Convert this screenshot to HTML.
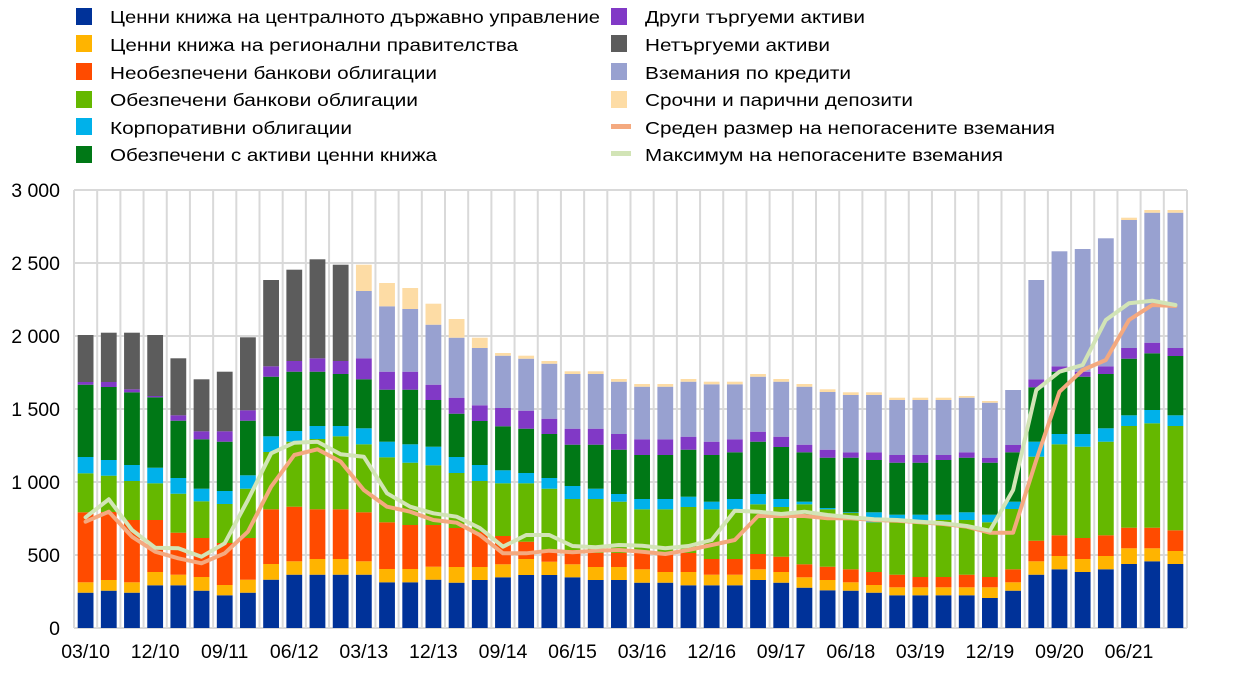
<!DOCTYPE html>
<html><head><meta charset="utf-8">
<style>
html,body{margin:0;padding:0;background:#fff;}
svg{display:block;font-family:"Liberation Sans","DejaVu Sans",sans-serif;}
</style></head>
<body>
<svg id="c" width="1240" height="689" viewBox="0 0 1240 689" xmlns="http://www.w3.org/2000/svg">
<g id="grid" stroke="#d9d9d9" stroke-width="2" fill="none"></g>
<g id="bars"></g>
<g id="lines" fill="none" stroke-linejoin="round" stroke-linecap="round"></g>
<g id="labels" font-size="19.5" fill="#000"></g>
<g id="legend" font-size="17.5" fill="#000">
<rect x="76" y="8" width="16" height="17" fill="#003299"/>
<rect x="76" y="35" width="16" height="17" fill="#ffb400"/>
<rect x="76" y="63" width="16" height="17" fill="#ff4b00"/>
<rect x="76" y="91" width="16" height="17" fill="#65b800"/>
<rect x="76" y="118" width="16" height="17" fill="#00b1ea"/>
<rect x="76" y="146" width="16" height="17" fill="#007816"/>
<text x="110" y="23" textLength="490" lengthAdjust="spacingAndGlyphs">Ценни книжа на централното държавно управление</text>
<text x="110" y="51" textLength="408" lengthAdjust="spacingAndGlyphs">Ценни книжа на регионални правителства</text>
<text x="110" y="79" textLength="327" lengthAdjust="spacingAndGlyphs">Необезпечени банкови облигации</text>
<text x="110" y="106" textLength="308" lengthAdjust="spacingAndGlyphs">Обезпечени банкови облигации</text>
<text x="110" y="134" textLength="242" lengthAdjust="spacingAndGlyphs">Корпоративни облигации</text>
<text x="110" y="161" textLength="327" lengthAdjust="spacingAndGlyphs">Обезпечени с активи ценни книжа</text>
<rect x="611" y="8" width="16" height="17" fill="#8139c6"/>
<rect x="611" y="35" width="16" height="17" fill="#5c5c5c"/>
<rect x="611" y="63" width="16" height="17" fill="#98a1d0"/>
<rect x="611" y="91" width="16" height="17" fill="#fddca5"/>
<rect x="611" y="124" width="20" height="5" fill="#f4a97f"/>
<rect x="611" y="151" width="20" height="5" fill="#d2e4b6"/>
<text x="645" y="23" textLength="220" lengthAdjust="spacingAndGlyphs">Други търгуеми активи</text>
<text x="645" y="51" textLength="185" lengthAdjust="spacingAndGlyphs">Нетъргуеми активи</text>
<text x="645" y="79" textLength="206" lengthAdjust="spacingAndGlyphs">Вземания по кредити</text>
<text x="645" y="106" textLength="268" lengthAdjust="spacingAndGlyphs">Срочни и парични депозити</text>
<text x="645" y="134" textLength="410" lengthAdjust="spacingAndGlyphs">Среден размер на непогасените вземания</text>
<text x="645" y="161" textLength="358" lengthAdjust="spacingAndGlyphs">Максимум на непогасените вземания</text>
</g>
</svg>
<script>
(function(){
var NS="http://www.w3.org/2000/svg";
function el(p,t,a,txt){var e=document.createElementNS(NS,t);for(var k in a)e.setAttribute(k,a[k]);if(txt!==undefined)e.textContent=txt;document.getElementById(p).appendChild(e);return e;}
var L=74,R=1187,T=190,B=628,N=48,P=(R-L)/N;
for(var v=0;v<=6;v++){var y=T+(B-T)*v/6;el("grid","line",{x1:L,x2:R,y1:y,y2:y});}
for(var i=0;i<=N;i++){var x=L+P*i;el("grid","line",{x1:x,x2:x,y1:T,y2:B});}
var D=[
[592.7,582.3,512.3,473.3,457,384.7,382,335,335],
[590.7,580,512,475.7,460,387,382,332.7,332.7],
[592.7,582.3,520,481,465,392.3,389.3,332.7,332.7],
[585.3,572,520,483.3,467.7,397.3,396,335,335],
[585.3,574.7,532.7,493.7,478,420.7,415.3,358.3,358.3],
[590.7,577,538,501.3,488.7,439.3,431.3,379.3,379.3],
[595.3,585,543,504,491,441.7,431.3,371.7,371.7],
[592.7,579.7,538,488.7,475.3,420.7,410.3,337.3,337.3],
[579.7,564,509.3,452,436.3,376.7,366.3,280,280],
[574.7,561.3,506.7,441.7,431,371.7,361,269.7,269.7],
[574.7,559,509.3,439,426,371.7,358.3,259.3,259.3],
[574.7,559,509.3,436.3,426,374,361,264.7,264.7],
[574.7,561.3,512.3,444.3,428.3,379.3,358.3,291,264.7],
[582.3,569,522.3,457.3,441.7,389.7,371.7,306.3,283],
[582.3,569,525,462.7,444.3,389.7,371.7,309,288],
[579.7,566.7,525,465.3,446.7,400,384.7,324.7,303.7],
[582.7,567,528,473,457,413.7,397.7,337.7,319],
[580,567,532,481,465,421,405.3,348,337.7],
[577.3,564.3,536,483.3,470.3,426.3,408,355.7,353],
[575,559,541.7,483.3,473,428.7,410.7,358.7,355.7],
[575,561.7,550,488.7,478,434,418.7,363.7,361],
[577.3,564.3,550,499,486,444.7,428.7,374,371.3],
[580,567,553,499,488.7,444.7,428.7,374,371.3],
[580,567,553,501.7,494,449.7,434,381.7,379],
[582.7,569.3,553,509.3,499,455,439.3,386.7,384],
[582.7,572,553,509.3,499,455,439.3,386.7,384],
[585.3,572,553,507,496.7,449.7,436.7,381.7,379],
[585.3,574.7,559,509.3,501.7,455,441.7,384.3,381.7],
[585.3,574.7,559,509.3,499,452.3,439.3,384.3,381.7],
[580,569.3,554,504.3,494,441.7,431.7,376.7,374],
[582.7,572,556.7,507,499,447,436.7,381.7,379],
[587.7,577.3,564.3,504.3,501.7,452.3,444.7,386.7,384],
[590.3,580,566.7,509.3,508,457.7,449.7,392,389.3],
[590.7,582.3,569.3,513,512.3,457.7,452.3,395,392.3],
[592.7,585,572,522.3,512.3,460,452.3,395,392.3],
[595.3,587.3,574.7,520,514.7,462.7,455,400,397.7],
[595.3,587.3,577,522.3,514.7,462.7,455,400,397.7],
[595.3,587.3,577,520,514.7,460,455,400,397.7],
[595.3,587.3,574.7,520,512.3,457.7,452.3,397.7,396],
[598,587.3,577,522.3,514.7,462.7,457.7,402.7,401],
[590.7,582.3,569.3,509,501.7,452.3,445,390,390],
[574.7,561.3,540.7,456.7,441.7,387.3,379.3,280,280],
[569.3,556,535.3,444.3,434,371.7,366.3,251.3,251.3],
[572,559,538,446.7,434,376.7,371.7,249,249],
[569.3,556,535.3,441.7,428.3,374,366.3,238.3,238.3],
[564,548.3,527.7,426,415.3,358.7,348,220,217.7],
[561.3,548.3,527.7,423.3,410,353.3,342.7,212.7,210],
[564,551,530.3,426,415.3,356,348,212.7,210]];
var C=["#003299","#ffb400","#ff4b00","#65b800","#00b1ea","#007816","#8139c6","#5c5c5c","#fddca5"];
var BW=15.8;
for(var i=0;i<N;i++){
  var bx=L+P*i+(P-BW)/2,prev=B,d=D[i];
  for(var s=0;s<9;s++){
    var tp=d[s];var col=C[s];
    if(s==7&&i>=12)col="#98a1d0";
    if(prev-tp>0.2)el("bars","rect",{x:bx.toFixed(2),y:tp,width:BW,height:(prev-tp).toFixed(2),fill:col});
    prev=tp;
  }
}
var G=[517.3,499.3,530,547.7,548.3,556.7,543.3,500,453.3,442.7,441.7,454.3,456.7,493.3,506.7,513.3,516.7,528,546.7,535,535,546,547.3,545,545.7,548.3,546,540,510.7,511.7,514,511.7,515,517.3,519.3,520,521.7,523.3,526,530.7,490,390,371.7,365,320,303.3,300.7,305];
var O=[521.7,511.7,536.7,551.7,558.3,563.3,553.3,531.7,486.7,455,449.3,461.7,490,506.7,511.7,520,522.7,535,553.3,553.3,550.7,552.3,550.7,550,551.7,554,550,545,540,516,516,516,518.3,518.3,520,520.7,522.3,524,526.7,532.7,532.7,460,391.7,370,360,320,305,306];
function pts(a){return a.map(function(y,i){return (L+P*(i+0.5)).toFixed(1)+","+y;}).join(" ");}
el("lines","polyline",{points:pts(O),stroke:"#f4a97f","stroke-width":4});
el("lines","polyline",{points:pts(G),stroke:"#d2e4b6","stroke-width":4});
var yl=["0","500","1 000","1 500","2 000","2 500","3 000"];
for(var v=0;v<=6;v++){el("labels","text",{x:60,y:(B-(B-T)*v/6+7).toFixed(1),"text-anchor":"end"},yl[v]);}
var xl=["03/10","12/10","09/11","06/12","03/13","12/13","09/14","06/15","03/16","12/16","09/17","06/18","03/19","12/19","09/20","06/21"];
for(var k=0;k<xl.length;k++){el("labels","text",{x:(L+P*(3*k+0.5)).toFixed(1),y:658,"text-anchor":"middle"},xl[k]);}
})();
</script>
</body></html>
